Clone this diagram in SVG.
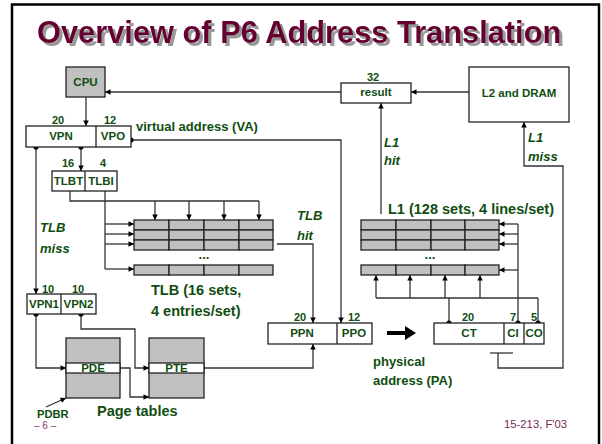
<svg xmlns="http://www.w3.org/2000/svg" width="602" height="444" viewBox="0 0 602 444">
  <defs>
    <marker id="arr" viewBox="0 0 10 10" refX="10" refY="5" markerWidth="6" markerHeight="5.5" markerUnits="userSpaceOnUse" orient="auto">
      <path d="M0,0 L10,5 L0,10 z" fill="#000"/>
    </marker>
    <!-- hard grey drop shadow for the title -->
    <filter id="shadow" x="-5%" y="-20%" width="110%" height="150%">
      <feOffset in="SourceAlpha" dx="2.5" dy="2.5" result="off"/>
      <feFlood flood-color="#999999"/>
      <feComposite in2="off" operator="in" result="sh"/>
      <feMerge>
        <feMergeNode in="sh"/>
        <feMergeNode in="SourceGraphic"/>
      </feMerge>
    </filter>
    <style>
      .frame { fill: none; stroke: #000; stroke-width: 2.5; }
      .title { font-family: "Liberation Sans", Arial, sans-serif; font-weight: bold; font-size: 30.8px; }
      .box { fill: #fff; stroke: #222; stroke-width: 1.3; }
      .gbox { fill: #c0c0c0; stroke: #222; stroke-width: 1.3; }
      .cell { fill: #c0c0c0; stroke: #222; stroke-width: 1.3; }
      .wire { fill: none; stroke: #333; stroke-width: 1.3; }
      .arrow { fill: none; stroke: #333; stroke-width: 1.3; marker-end: url(#arr); }
      .dot { fill: #000; }
      text { font-family: "Liberation Sans", Arial, sans-serif; fill: #104d10; font-weight: bold; }
      .s { font-size: 11.5px; }
      .n { font-size: 11px; }
      .m { font-size: 13px; }
      .l { font-size: 14.5px; }
      .it { font-style: italic; font-size: 13px; }
      .c { text-anchor: middle; }
      .foot { fill: #7a2a5a; font-weight: normal; font-size: 11.3px; }
    </style>
  </defs>

  <!-- slide frame -->
  <rect class="frame" x="12" y="4.5" width="587" height="460"/>

  <!-- title -->
  <text class="title" x="37" y="43" filter="url(#shadow)" style="fill:#660033">Overview of P6 Address Translation</text>

  <!-- connectors -->
  <g id="connectors">
    <line class="arrow" x1="86" y1="97" x2="86" y2="126"/>
    <line class="arrow" x1="341" y1="92" x2="105" y2="92"/>
    <line class="arrow" x1="469" y1="92" x2="411" y2="92"/>
    <line class="arrow" x1="81" y1="147" x2="81" y2="171"/>
    <line class="arrow" x1="36" y1="147" x2="36" y2="294"/>
    <polyline class="arrow" points="131,140 341,140 341,323"/>
    <!-- TLBT -> set tags -->
    <polyline class="wire" points="70,191 70,201 259,201"/>
    <line class="arrow" x1="155" y1="201" x2="155" y2="220"/>
    <line class="arrow" x1="189" y1="201" x2="189" y2="220"/>
    <line class="arrow" x1="224" y1="201" x2="224" y2="220"/>
    <line class="arrow" x1="259" y1="201" x2="259" y2="220"/>
    <!-- TLBI -> set select -->
    <line class="wire" x1="105" y1="191" x2="105" y2="269"/>
    <line class="arrow" x1="105" y1="224" x2="134" y2="224"/>
    <line class="arrow" x1="105" y1="234" x2="134" y2="234"/>
    <line class="arrow" x1="105" y1="244" x2="134" y2="244"/>
    <line class="arrow" x1="105" y1="269" x2="134" y2="269"/>
    <!-- TLB hit -->
    <polyline class="arrow" points="277,244 313,244 313,323"/>
    <!-- page walk -->
    <polyline class="arrow" points="36,314 36,368 66,368"/>
    <polyline class="arrow" points="81,314 81,329 135,329 135,368 149,368"/>
    <polyline class="arrow" points="120,368 130,368 130,397 149,397"/>
    <polyline class="arrow" points="204,368 313,368 313,344"/>
    <line class="arrow" x1="46" y1="407" x2="66" y2="398"/>
    <!-- physical address -> L1 -->
    <line class="wire" x1="449" y1="323" x2="449" y2="298"/>
    <line class="wire" x1="376" y1="298" x2="538" y2="298"/>
    <line class="wire" x1="538" y1="323" x2="538" y2="298"/>
    <line class="arrow" x1="376" y1="298" x2="376" y2="275"/>
    <line class="arrow" x1="410" y1="298" x2="410" y2="275"/>
    <line class="arrow" x1="445" y1="298" x2="445" y2="275"/>
    <line class="arrow" x1="480" y1="298" x2="480" y2="275"/>
    <line class="wire" x1="518" y1="323" x2="518" y2="224"/>
    <line class="arrow" x1="518" y1="224" x2="499" y2="224"/>
    <line class="arrow" x1="518" y1="234" x2="499" y2="234"/>
    <line class="arrow" x1="518" y1="244" x2="499" y2="244"/>
    <line class="arrow" x1="518" y1="270" x2="499" y2="270"/>
    <!-- L1 hit / miss -->
    <line class="arrow" x1="381" y1="214" x2="381" y2="103"/>
    <line class="wire" x1="490" y1="353" x2="513" y2="353"/>
    <polyline class="arrow" points="498,353 498,368 563,368 563,166 524,166 524,122"/>
    <!-- bold arrow VA -> PA split -->
    <path d="M387,331 L405,331 L405,326 L416,333 L405,340 L405,335 L387,335 z" fill="#000"/>
    <!-- junction dots -->
    <circle class="dot" cx="36" cy="147" r="2.6"/>
    <circle class="dot" cx="81" cy="147" r="2.6"/>
    <circle class="dot" cx="131" cy="140" r="2.6"/>
    <circle class="dot" cx="36" cy="314" r="2.6"/>
    <circle class="dot" cx="81" cy="314" r="2.6"/>
    <circle class="dot" cx="449" cy="323" r="2.6"/>
    <circle class="dot" cx="518" cy="323" r="2.6"/>
    <circle class="dot" cx="538" cy="323" r="2.6"/>
  </g>

  <g id="cpu">
    <rect class="gbox" x="66" y="67" width="39" height="30"/>
    <text class="s c" x="85.5" y="86">CPU</text>
  </g>

  <g id="virtual-address">
    <rect class="box" x="26" y="126" width="105" height="21"/>
    <line class="wire" x1="96" y1="126" x2="96" y2="147" style="stroke:#222"/>
    <text class="n c" x="58" y="124">20</text>
    <text class="n c" x="110" y="124">12</text>
    <text class="s c" x="61" y="140">VPN</text>
    <text class="s c" x="113" y="140">VPO</text>
    <text class="m" x="136" y="131">virtual address (VA)</text>
  </g>

  <g id="tlb-fields">
    <rect class="box" x="52" y="171" width="65" height="20"/>
    <line class="wire" x1="85" y1="171" x2="85" y2="191" style="stroke:#222"/>
    <text class="n c" x="68" y="167">16</text>
    <text class="n c" x="103" y="167">4</text>
    <text class="s c" x="68.5" y="185">TLBT</text>
    <text class="s c" x="101" y="185">TLBI</text>
  </g>

  <g id="tlb">
    <rect class="cell" x="134" y="220" width="35" height="10"/>
    <rect class="cell" x="169" y="220" width="35" height="10"/>
    <rect class="cell" x="204" y="220" width="35" height="10"/>
    <rect class="cell" x="239" y="220" width="34" height="10"/>
    <rect class="cell" x="134" y="230" width="35" height="10"/>
    <rect class="cell" x="169" y="230" width="35" height="10"/>
    <rect class="cell" x="204" y="230" width="35" height="10"/>
    <rect class="cell" x="239" y="230" width="34" height="10"/>
    <rect class="cell" x="134" y="240" width="35" height="10"/>
    <rect class="cell" x="169" y="240" width="35" height="10"/>
    <rect class="cell" x="204" y="240" width="35" height="10"/>
    <rect class="cell" x="239" y="240" width="34" height="10"/>
    <text class="m c" x="204" y="259">...</text>
    <rect class="cell" x="134" y="265" width="35" height="10"/>
    <rect class="cell" x="169" y="265" width="35" height="10"/>
    <rect class="cell" x="204" y="265" width="35" height="10"/>
    <rect class="cell" x="239" y="265" width="34" height="10"/>
    <text class="l" x="151" y="295">TLB (16 sets,</text>
    <text class="l" x="151" y="316">4 entries/set)</text>
    <text class="it" x="40" y="232">TLB</text>
    <text class="it" x="40" y="253">miss</text>
    <text class="it" x="297" y="220">TLB</text>
    <text class="it" x="297" y="240">hit</text>
  </g>

  <g id="vpn-split">
    <rect class="box" x="27" y="294" width="69" height="20"/>
    <line class="wire" x1="61" y1="294" x2="61" y2="314" style="stroke:#222"/>
    <text class="n c" x="48" y="293">10</text>
    <text class="n c" x="78" y="293">10</text>
    <text class="s c" x="44" y="308">VPN1</text>
    <text class="s c" x="78.5" y="308">VPN2</text>
  </g>

  <g id="page-tables">
    <rect class="gbox" x="66" y="338" width="54" height="60"/>
    <rect class="box" x="66" y="363" width="54" height="10"/>
    <text class="s c" x="93" y="372">PDE</text>
    <rect class="gbox" x="149" y="338" width="55" height="60"/>
    <rect class="box" x="149" y="363" width="55" height="10"/>
    <text class="s c" x="176.5" y="372">PTE</text>
    <text class="l" x="97" y="416">Page tables</text>
    <text x="37" y="417.5" style="font-size:11.2px">PDBR</text>
  </g>

  <g id="physical-page">
    <rect class="box" x="268" y="323" width="104" height="21"/>
    <line class="wire" x1="337" y1="323" x2="337" y2="344" style="stroke:#222"/>
    <text class="n c" x="300" y="321">20</text>
    <text class="n c" x="354" y="321">12</text>
    <text class="s c" x="302" y="337">PPN</text>
    <text class="s c" x="354" y="337">PPO</text>
    <text class="m" x="373" y="366">physical</text>
    <text class="m" x="373" y="385">address (PA)</text>
  </g>

  <g id="cache-address">
    <rect class="box" x="434" y="323" width="110" height="21"/>
    <line class="wire" x1="504" y1="323" x2="504" y2="344" style="stroke:#222"/>
    <line class="wire" x1="524" y1="323" x2="524" y2="344" style="stroke:#222"/>
    <text class="n c" x="468" y="321">20</text>
    <text class="n c" x="513" y="321">7</text>
    <text class="n c" x="534" y="321">5</text>
    <text class="s c" x="469" y="337">CT</text>
    <text class="s c" x="513" y="337">CI</text>
    <text class="s c" x="534" y="337">CO</text>
  </g>

  <g id="l1">
    <rect class="cell" x="361" y="220" width="35" height="10"/>
    <rect class="cell" x="396" y="220" width="35" height="10"/>
    <rect class="cell" x="431" y="220" width="34" height="10"/>
    <rect class="cell" x="465" y="220" width="34" height="10"/>
    <rect class="cell" x="361" y="230" width="35" height="10"/>
    <rect class="cell" x="396" y="230" width="35" height="10"/>
    <rect class="cell" x="431" y="230" width="34" height="10"/>
    <rect class="cell" x="465" y="230" width="34" height="10"/>
    <rect class="cell" x="361" y="240" width="35" height="10"/>
    <rect class="cell" x="396" y="240" width="35" height="10"/>
    <rect class="cell" x="431" y="240" width="34" height="10"/>
    <rect class="cell" x="465" y="240" width="34" height="10"/>
    <text class="m c" x="430" y="259">...</text>
    <rect class="cell" x="361" y="265" width="35" height="10"/>
    <rect class="cell" x="396" y="265" width="35" height="10"/>
    <rect class="cell" x="431" y="265" width="34" height="10"/>
    <rect class="cell" x="465" y="265" width="34" height="10"/>
    <text class="l" x="388" y="214">L1 (128 sets, 4 lines/set)</text>
    <text class="it" x="384" y="147">L1</text>
    <text class="it" x="384" y="165">hit</text>
    <text class="it" x="528" y="142">L1</text>
    <text class="it" x="528" y="161">miss</text>
  </g>

  <g id="result">
    <rect class="box" x="341" y="83" width="70" height="20"/>
    <text class="n c" x="373" y="81">32</text>
    <text class="s c" x="376" y="96">result</text>
  </g>

  <g id="l2-dram">
    <rect class="box" x="469" y="67" width="100" height="55"/>
    <text class="s c" x="519" y="97">L2 and DRAM</text>
  </g>

  <!-- footer -->
  <text class="foot" x="34" y="429" style="fill:#8b3a6e;font-size:10px">– 6 –</text>
  <text class="foot" x="504" y="428">15-213, F'03</text>
</svg>
